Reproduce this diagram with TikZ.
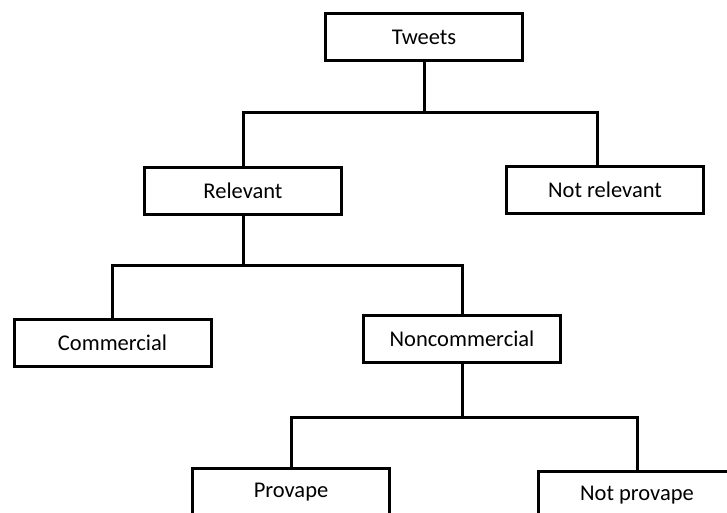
\documentclass[tikz,border=0pt]{standalone}
\usepackage{fontspec}
\setmainfont{Carlito}
\begin{document}
\begin{tikzpicture}[x=1pt,y=-1pt,
  box/.style={draw, line width=3pt, minimum width=197pt, minimum height=47pt, inner sep=0pt, font=\fontsize{22.5}{26}\selectfont},
  link/.style={line width=3pt, line join=miter}]
\useasboundingbox (0,0) rectangle (727,513);
\clip (0,0) rectangle (727,513);
\coordinate (y1) at (0,113);
\coordinate (y2) at (0,265);
\coordinate (y3) at (0,417);
\node[box] (tweets) at (424,37) {Tweets};
\node[box] (relevant) at (243,190.5) {Relevant};
\node[box] (notrel) at (605,190) {Not relevant};
\node[box] (commercial) at (112.5,343) {Commercial};
\node[box] (noncomm) at (462,339) {Noncommercial};
\node[box] (provape) at (291,492) {Provape};
\node[box] (notprovape) at (637,495) {Not provape};
\draw[link] (tweets.south) -- (tweets.south |- y1) coordinate (j1);
\draw[link] (relevant.north) |- (j1) -| ([xshift=-8pt]notrel.north);
\draw[link] (relevant.south) -- (relevant.south |- y2) coordinate (j2);
\draw[link] (commercial.north) |- (j2) -| (noncomm.north);
\draw[link] (noncomm.south) -- (noncomm.south |- y3) coordinate (j3);
\draw[link] (provape.north) |- (j3) -| (notprovape.north);
\end{tikzpicture}
\end{document}
